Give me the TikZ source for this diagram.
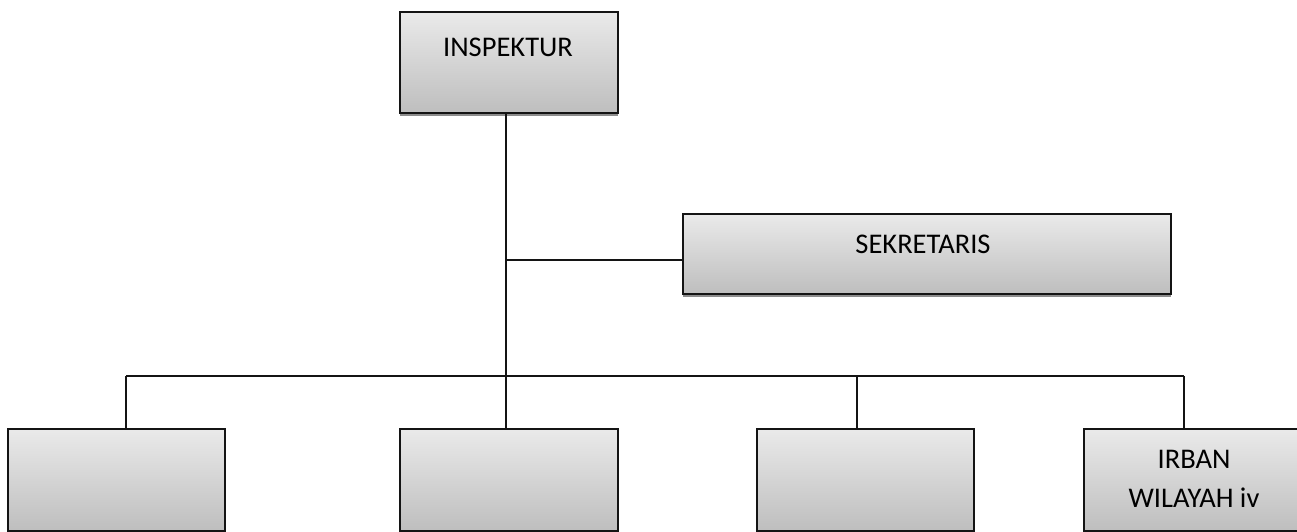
\documentclass[tikz,border=0pt]{standalone}
\usepackage{fontspec}
\setmainfont{Carlito}
\usetikzlibrary{shadows}
\definecolor{ctop}{RGB}{234,234,234}
\definecolor{cbot}{RGB}{190,190,190}
\definecolor{cline}{RGB}{20,20,20}
\begin{document}
\begin{tikzpicture}[x=1pt,y=-1pt,
  orgbox/.style={draw=cline, line width=1.6pt, rectangle, anchor=north west, inner sep=0pt,
    top color=ctop, bottom color=cbot,
    drop shadow={shadow xshift=0.5pt, shadow yshift=-3pt, fill=black!45, opacity=1}},
  orgtext/.style={font=\fontsize{28.5}{39}\selectfont, text=black, align=center, inner sep=0pt},
  conn/.style={draw=cline, line width=1.5pt}]
\useasboundingbox (0,0) rectangle (1297,532);
% boxes
\node[orgbox, minimum width=218pt, minimum height=101pt] (insp) at (399,11) {};
\node[orgbox, minimum width=488pt, minimum height=80pt] (sek) at (682,213) {};
\node[orgbox, minimum width=217pt, minimum height=102pt] (box1) at (7,428) {};
\node[orgbox, minimum width=218pt, minimum height=102pt] (box2) at (399,428) {};
\node[orgbox, minimum width=217pt, minimum height=102pt] (box3) at (756,428) {};
\node[orgbox, minimum width=217pt, minimum height=102pt] (box4) at (1083,428) {};
% texts
\node[orgtext] (tinsp) at (508,47) {INSPEKTUR};
\node[orgtext] (tsek) at (923,244) {SEKRETARIS};
\node[orgtext] (tbox4) at (1194,479) {IRBAN\\WILAYAH iv};
% connector coordinates
\coordinate (trunk) at (506,376);
\coordinate (sj) at (506,260);
\coordinate (b1) at (126,376);
\coordinate (b3) at (857,376);
\coordinate (b4) at (1184,376);
% connectors
\draw[conn] (trunk |- insp.south) -- (trunk);
\draw[conn] (sj) -- (sj -| sek.west);
\draw[conn] (b1) -- (b4);
\draw[conn] (b1) -- (b1 |- box1.north);
\draw[conn] (trunk) -- (trunk |- box2.north);
\draw[conn] (b3) -- (b3 |- box3.north);
\draw[conn] (b4) -- (b4 |- box4.north);
\end{tikzpicture}
\end{document}
